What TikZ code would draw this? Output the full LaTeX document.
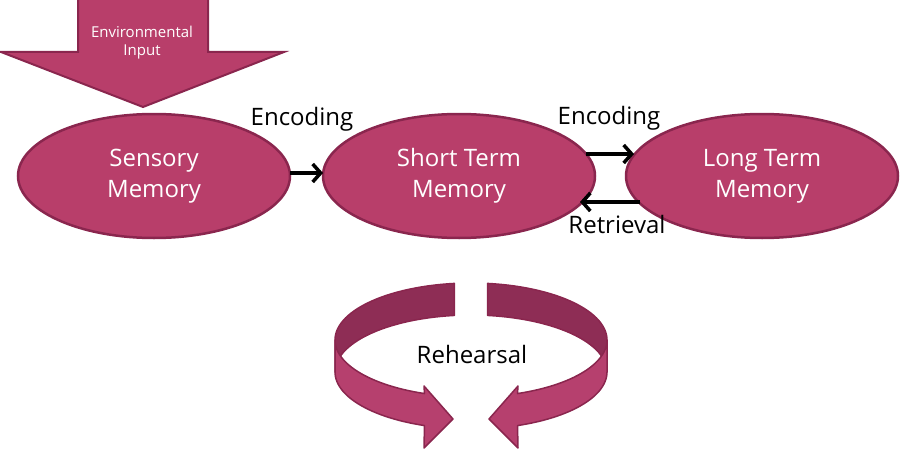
\documentclass[tikz,border=0pt]{standalone}
\usepackage{fontspec}
\setmainfont{Open Sans}
\usetikzlibrary{shapes.geometric,arrows.meta,calc}
\definecolor{mfill}{RGB}{184,62,106}
\definecolor{mborder}{RGB}{138,38,78}
\definecolor{mback}{RGB}{142,45,85}
\definecolor{mfront}{RGB}{182,64,110}
\begin{document}
\begin{tikzpicture}[x=1pt,y=-1pt,
  memory/.style={ellipse, draw=mborder, fill=mfill, line width=2.5pt,
    minimum width=272pt, minimum height=124pt, inner sep=0pt, outer sep=0pt,
    text=white, align=center, font=\fontsize{24}{31}\selectfont},
  lbl/.style={font=\fontsize{24}{28}\selectfont, text=black, inner sep=0pt},
  conn/.style={line width=3.5pt, -{Straight Barb[length=8pt,width=18pt]}},
  band/.style={draw=mborder, line width=1.5pt, line join=round}]
\useasboundingbox (0,0) rectangle (900,460);

% environmental input arrow
\draw[fill=mfill, draw=mborder, line width=2pt, line join=miter]
  (78,-3) -- (208,-3) -- (208,52) -- (284,52) -- (143,107) -- (1,52) -- (78,52) -- cycle;
\node[text=white, align=center, inner sep=0pt, font=\fontsize{15}{18}\selectfont] (env) at (142,43) {Environmental\\Input};

% memory stores
\node[memory] (sens) at (154,176) {Sensory\\Memory};
\node[memory] (short) at (459,176) {Short Term\\Memory};
\node[memory] (long) at (762,176) {Long Term\\Memory};

% connectors
\draw[conn] ($(sens.center)+(136,-3)$) -- ($(short.center)+(-136,-3)$);
\draw[conn] ($(short.center)+(127,-22)$) -- ($(long.center)+(-128,-22)$);
\draw[conn] ($(long.center)+(-122,26)$) -- ($(short.center)+(121,26)$);

% labels
\node[lbl] (enc1) at (302,119) {Encoding};
\node[lbl] (enc2) at (609,118) {Encoding};
\node[lbl] (retr) at (617,224) {Retrieval};

% rehearsal circular arrows
\draw[band, fill=mback]
  plot[domain=263:180, samples=30] ({471+136*cos(\x)},{340+57*sin(\x)})
  -- plot[domain=180:263, samples=30] ({471+136*cos(\x)},{372+57*sin(\x)}) -- cycle;
\draw[band, fill=mfront]
  plot[domain=180:110, samples=30] ({471+136*cos(\x)},{340+57*sin(\x)})
  -- (424,386) -- (453,419) -- (424,448)
  -- plot[domain=110:180, samples=30] ({471+136*cos(\x)},{372+57*sin(\x)}) -- cycle;
\draw[band, fill=mback]
  plot[domain=263:180, samples=30] ({471-136*cos(\x)},{340+57*sin(\x)})
  -- plot[domain=180:263, samples=30] ({471-136*cos(\x)},{372+57*sin(\x)}) -- cycle;
\draw[band, fill=mfront]
  plot[domain=180:110, samples=30] ({471-136*cos(\x)},{340+57*sin(\x)})
  -- (518,386) -- (489,419) -- (518,448)
  -- plot[domain=110:180, samples=30] ({471-136*cos(\x)},{372+57*sin(\x)}) -- cycle;
\node[lbl] (reh) at (472,354) {Rehearsal};
\end{tikzpicture}
\end{document}
